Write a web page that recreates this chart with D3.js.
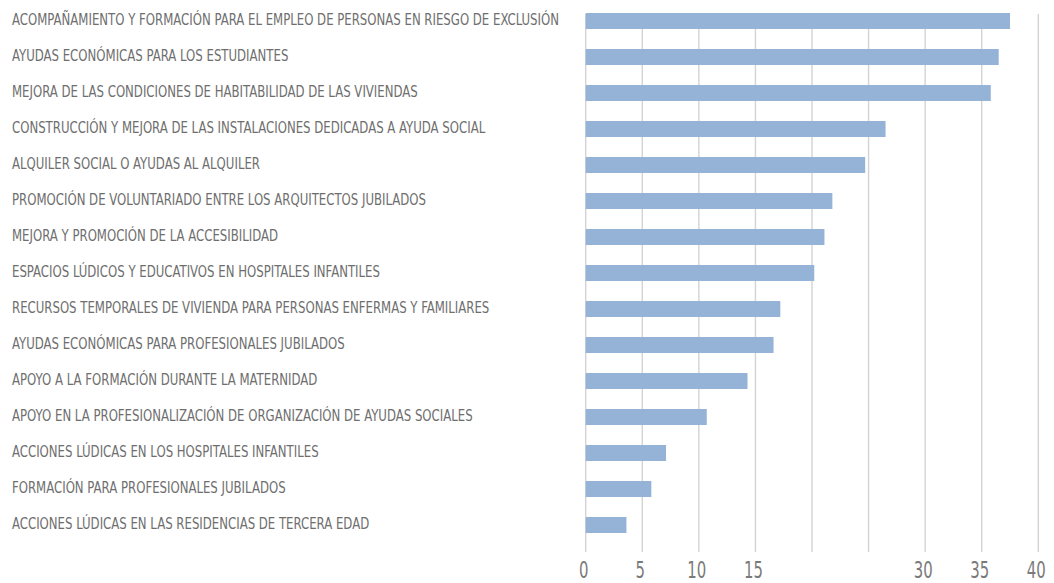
<!DOCTYPE html>
<html>
<head>
<meta charset="utf-8">
<script src="https://cdn.jsdelivr.net/npm/d3@7"></script>
<style>
  html, body { margin: 0; padding: 0; background: #fff; }
  svg { display: block; }
</style>
</head>
<body>
<svg id="chart"></svg>
<script>
// Categories, top to bottom
const categories = [
  "ACOMPAÑAMIENTO Y FORMACIÓN PARA EL EMPLEO DE PERSONAS EN RIESGO DE EXCLUSIÓN",
  "AYUDAS ECONÓMICAS PARA LOS ESTUDIANTES",
  "MEJORA DE LAS CONDICIONES DE HABITABILIDAD DE LAS VIVIENDAS",
  "CONSTRUCCIÓN Y MEJORA DE LAS INSTALACIONES DEDICADAS A AYUDA SOCIAL",
  "ALQUILER SOCIAL O AYUDAS AL ALQUILER",
  "PROMOCIÓN DE VOLUNTARIADO ENTRE LOS ARQUITECTOS JUBILADOS",
  "MEJORA Y PROMOCIÓN DE LA ACCESIBILIDAD",
  "ESPACIOS LÚDICOS Y EDUCATIVOS EN HOSPITALES INFANTILES",
  "RECURSOS TEMPORALES DE VIVIENDA PARA PERSONAS ENFERMAS Y FAMILIARES",
  "AYUDAS ECONÓMICAS PARA PROFESIONALES JUBILADOS",
  "APOYO A LA FORMACIÓN DURANTE LA MATERNIDAD",
  "APOYO EN LA PROFESIONALIZACIÓN DE ORGANIZACIÓN DE AYUDAS SOCIALES",
  "ACCIONES LÚDICAS EN LOS HOSPITALES INFANTILES",
  "FORMACIÓN PARA PROFESIONALES JUBILADOS",
  "ACCIONES LÚDICAS EN LAS RESIDENCIAS DE TERCERA EDAD"
];

const values = [37.5, 36.5, 35.8, 26.5, 24.7, 21.8, 21.1, 20.2, 17.2, 16.6, 14.3, 10.7, 7.1, 5.8, 3.6];

// gridlines every 5, but only some ticks carry a label in the original
const gridTicks = [0, 5, 10, 15, 20, 25, 30, 35, 40];
const tickLabels = [0, 5, 10, 15, 30, 35, 40];

const width = 1054;
const height = 583;

const svg = d3.select("#chart")
  .attr("width", width)
  .attr("height", height);

const x = d3.scaleLinear()
  .domain([0, 40])
  .range([585.7, 1038.3]);

const y = d3.scaleBand()
  .domain(categories)
  .range([3, 543])
  .paddingInner(20 / 36)
  .paddingOuter(10 / 36);

// --- gridlines ---
svg.append("g")
  .selectAll("line")
  .data(gridTicks)
  .join("line")
  .attr("x1", d => x(d))
  .attr("x2", d => x(d))
  .attr("y1", 14)
  .attr("y2", 552)
  .attr("stroke", "#d3d3d3")
  .attr("stroke-width", 1.4);

// --- bars ---
svg.append("g")
  .selectAll("rect")
  .data(values)
  .join("rect")
  .attr("x", x(0))
  .attr("y", (d, i) => y(categories[i]))
  .attr("width", d => x(d) - x(0))
  .attr("height", y.bandwidth())
  .attr("fill", "#95b3d7");

// --- category labels ---
svg.append("g")
  .selectAll("text")
  .data(categories)
  .join("text")
  .attr("transform", d => `translate(12, ${y(d) + y.bandwidth() / 2 - 0.5}) scale(0.79, 1)`)
  .attr("dominant-baseline", "middle")
  .style("font-family", "'Liberation Sans Narrow', 'DejaVu Sans Condensed', sans-serif")
  .style("font-size", "16.5px")
  .style("fill", "#6e6e6e")
  .text(d => d);

// --- x tick labels ---
svg.append("g")
  .selectAll("text")
  .data(tickLabels)
  .join("text")
  .attr("transform", d => `translate(${x(d) - 2}, 578) scale(0.72, 1)`)
  .attr("text-anchor", "middle")
  .style("font-family", "'Liberation Sans Narrow', 'DejaVu Sans Condensed', sans-serif")
  .style("font-size", "23px")
  .style("fill", "#7a7a7a")
  .text(d => d);
</script>
</body>
</html>
